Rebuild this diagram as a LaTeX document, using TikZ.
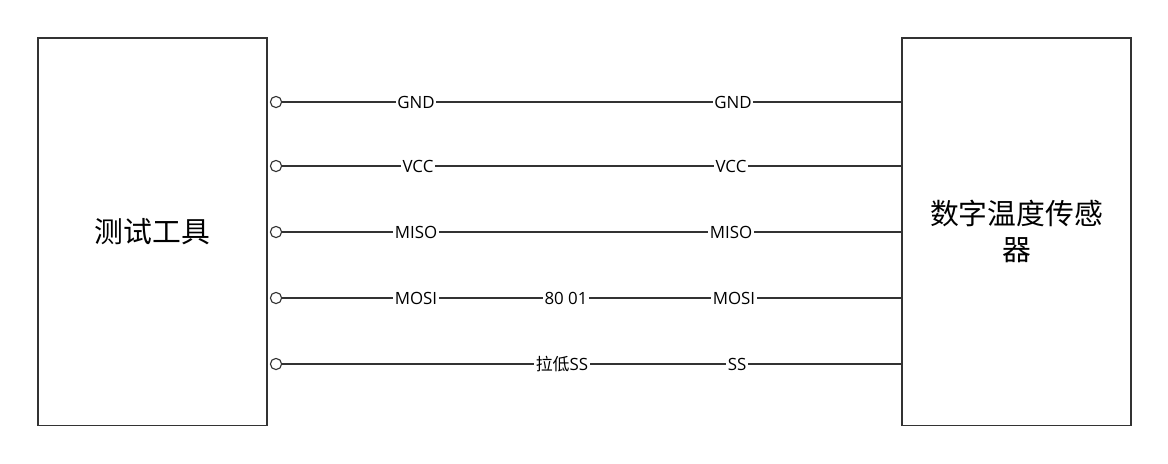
\documentclass[tikz,border=0pt]{standalone}
\usepackage{fontspec}
\setmainfont{Open Sans}
\newfontfamily\cjk{Noto Sans CJK SC}
\usetikzlibrary{positioning}
\tikzset{
  blockbox/.style={draw=black!80,thick,minimum width=5.725cm,minimum height=9.675cm,font=\cjk\fontsize{20.5}{25}\selectfont,align=center,text width=5.2cm},
  sig/.style={fill=white,inner sep=1pt,font=\fontsize{12}{14}\selectfont},
  pin/.style={circle,draw=black!80,thick,fill=white,minimum size=0.28cm,inner sep=0pt}
}
\begin{document}
\begin{tikzpicture}[x=0.025cm,y=-0.025cm]
            \useasboundingbox (0,0) rectangle (1168,463);
            % Blocks
            \node[blockbox] (tool) at (152.5,231.5) {测试工具};
            \node[blockbox] (sensor) at (1016.5,231.5) {数字温度传感\\器};

            % Pins and wires
            \foreach \i/\y in {1/102,2/166,3/232,4/298,5/364} {
              \node[pin] (p\i) at (276,\y) {};
              \coordinate (q\i) at (902,\y);
              \draw[black!80,thick] (p\i) -- (q\i);
            }

            % Labels
            \node[sig] (gndA) at (416,102) {GND};
            \node[sig] (gndB) at (733,102) {GND};
            \node[sig] (vccA) at (418,166) {VCC};
            \node[sig] (vccB) at (731,166) {VCC};
            \node[sig] (misoA) at (416,232) {MISO};
            \node[sig] (misoB) at (731,232) {MISO};
            \node[sig] (mosiA) at (416,298) {MOSI};
            \node[sig] (data) at (566,298) {80 01};
            \node[sig] (mosiB) at (734,298) {MOSI};
            \node[sig] (ssA) at (562,364) {{\cjk 拉低}SS};
            \node[sig] (ssB) at (737,364) {SS};
        \end{tikzpicture}
\end{document}
